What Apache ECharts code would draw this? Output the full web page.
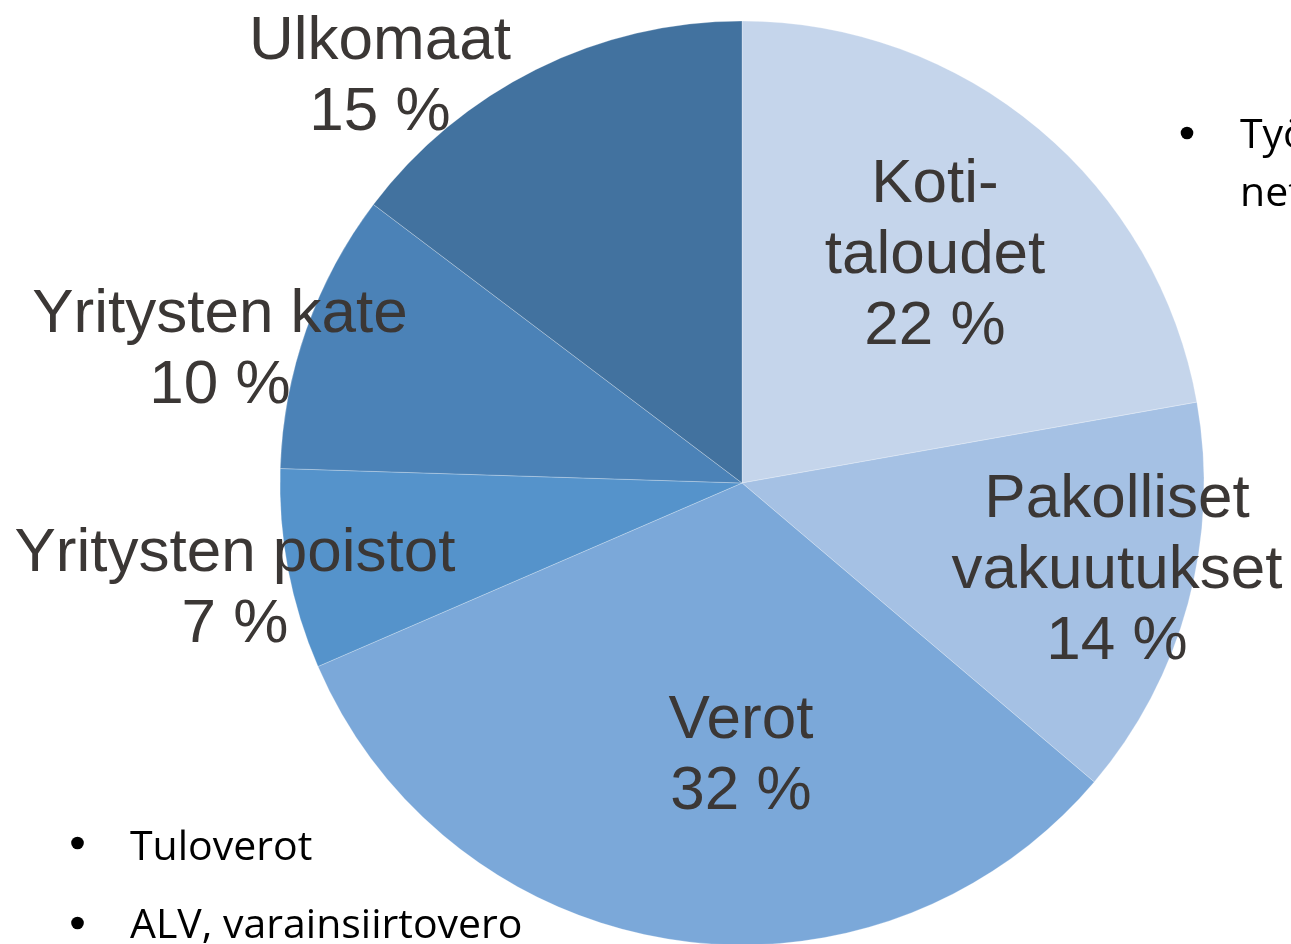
<!DOCTYPE html>
<html>
<head>
<meta charset="utf-8">
<script src="https://cdn.jsdelivr.net/npm/echarts@6/dist/echarts.min.js"></script>
<style>
  html, body { margin: 0; padding: 0; background: #fff; }
  #chart { width: 1291px; height: 944px; }
</style>
</head>
<body>
<div id="chart"></div>
<script>
// slice names as shown on the chart (line breaks as in the picture)
const names = ['Koti-\ntaloudet', 'Pakolliset\nvakuutukset', 'Verot', 'Yritysten poistot', 'Yritysten kate', 'Ulkomaat']
// shares; labels show them rounded
const shares = [22.2, 14.0, 32.3, 7.0, 9.8, 14.7]
const colors = ['#c5d5eb', '#a5c1e4', '#7ba8d9', '#5593cb', '#4b82b7', '#42729f']
// label centres
const labelPos = [[935, 256], [1117, 571], [741, 756], [235, 589], [220, 350], [380, 77]]

const bulletsLeft = ['Tuloverot', 'ALV, varainsiirtovero']
const bulletsRight = ['Työntekijöiden', 'nettopalkat']

const myChart = echarts.init(document.getElementById('chart'))

const textFont = '41px "Open Sans"'
const graphics = []
// bullet dots
const dot = (x, y) => ({ type: 'circle', shape: { cx: x, cy: y, r: 6.3 }, style: { fill: '#000' } })
bulletsLeft.forEach((t, i) => {
  graphics.push(dot(77.5, 843 + i * 80))
  graphics.push({ type: 'text', left: 130, top: 828 + i * 78, style: { text: t, font: textFont, fill: '#000' } })
})
graphics.push(dot(1187, 133))
bulletsRight.forEach((t, i) => {
  graphics.push({ type: 'text', left: 1240, top: 116 + i * 58, style: { text: t, font: textFont, fill: '#000' } })
})

myChart.setOption({
  animation: false,
  series: [
    {
      type: 'pie',
      center: [742, 483],
      radius: 462,
      startAngle: 90,
      clockwise: true,
      data: names.map((n, i) => ({ name: n, value: shares[i], itemStyle: { color: colors[i] } })),
      itemStyle: { borderColor: 'rgba(255,255,255,0.25)', borderWidth: 1 },
      emphasis: { disabled: true },
      labelLine: { show: false },
      label: {
        show: true,
        position: 'inside',
        formatter: p => p.name + '\n' + Math.round(p.value) + ' %',
        fontFamily: '"Liberation Sans", Arial, sans-serif',
        fontSize: 62,
        lineHeight: 71,
        color: '#3b3735',
        align: 'center'
      },
      labelLayout: function (params) {
        const p = labelPos[params.dataIndex]
        return { x: p[0], y: p[1], align: 'center', verticalAlign: 'middle' }
      }
    }
  ],
  graphic: graphics
})
</script>
</body>
</html>
